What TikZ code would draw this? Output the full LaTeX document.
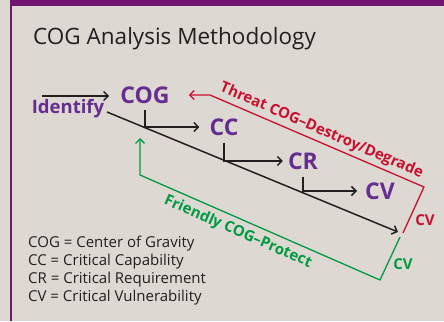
\documentclass[tikz,border=0pt]{standalone}
\usepackage{fontspec}
\setmainfont{Open Sans}
\usetikzlibrary{arrows.meta,calc,positioning}
\definecolor{paper}{RGB}{221,216,210}
\definecolor{framepurple}{RGB}{114,21,112}
\definecolor{cogpurple}{RGB}{102,45,145}
\definecolor{threatred}{RGB}{200,16,46}
\definecolor{friendgreen}{RGB}{0,154,68}
\definecolor{inkgray}{RGB}{35,31,32}
\tikzset{%
	term/.style     = {text=cogpurple, font=\bfseries\fontsize{23}{23}\selectfont, inner sep=0pt}, % COG, CC, ...
	flow/.style     = {draw=inkgray, line width=1.5pt, -{Straight Barb[length=4.5pt,width=9pt]}},
	threat/.style   = {draw=threatred, line width=1.3pt, -{Straight Barb[length=4.5pt,width=9pt]}},
	protect/.style  = {draw=friendgreen, line width=1.3pt, -{Straight Barb[length=4.5pt,width=9pt]}},
	side/.style     = {font=\bfseries\fontsize{15}{15}\selectfont, inner sep=0pt},
}

\begin{document}
\begin{tikzpicture}[x=1pt,y=-1pt]
	\useasboundingbox (0,0) rectangle (444,321);
	\fill[paper] (0,0) rectangle (444,321);
	\fill[framepurple] (10,0) rectangle (444,6);
	\fill[framepurple] (10,0) rectangle (12,321);
	\node[anchor=west, text=inkgray, font=\fontsize{22.5}{22.5}\selectfont, inner sep=0pt] (title) at (33,39) {COG Analysis Methodology};
	% the chain
	\node[term] (cog) at (145,95) {COG};
	\node[term, font=\bfseries\fontsize{18.5}{18.5}\selectfont] (identify) at (68,109) {Identify};
	\node[term] (cc) at (224,127) {CC};
	\node[term] (cr) at (303,161) {CR};
	\node[term] (cv) at (380,191) {CV};
	\coordinate (entry) at (42,96);
	\coordinate (diagA) at (107,112);
	\coordinate (diagB) at (398,232);
	\draw[flow, shorten >=11pt] (entry) -- (cog.west |- entry);
	\draw[flow] (diagA) -- (diagB);
	\draw[flow, shorten >=10pt] ([yshift=-6pt]cog.south) |- (cc.west);
	\draw[flow, shorten >=5pt] ([yshift=-7pt]cc.south) |- (cr.west);
	\draw[flow, shorten >=8pt] ([yshift=-7pt]cr.south) |- (cv.west);
	% threat side
	\coordinate (redEnd) at (403,233);
	\coordinate (redCorner) at (424,187);
	\coordinate (redBend) at (210,95);
	\draw[threat, shorten >=19pt] (redEnd) -- (redCorner)
		-- node[sloped, above=3pt, side, text=threatred] (threatlabel) {Threat COG--Destroy/Degrade} (redBend)
		-- (cog.east |- redBend);
	\node[side, text=threatred] (redcv) at (425,220) {CV};
	% friendly side
	\coordinate (greenEnd) at (400,237);
	\coordinate (greenCorner) at (380,280);
	\coordinate (greenBend) at (140,175);
	\coordinate (greenTip) at (140,138);
	\draw[protect] (greenEnd) -- (greenCorner)
		-- node[pos=0.57, sloped, below=5pt, side, text=friendgreen] (friendlabel) {Friendly COG--Protect} (greenBend)
		-- (greenTip);
	\node[side, text=friendgreen] (greencv) at (403,264) {CV};
	% legend
	\node[anchor=north west, align=left, text=inkgray, inner sep=0pt,
		font=\fontsize{15}{18}\selectfont] (legend) at (28,236)
		{COG = Center of Gravity\\CC = Critical Capability\\CR = Critical Requirement\\CV = Critical Vulnerability};
\end{tikzpicture}
\end{document}
